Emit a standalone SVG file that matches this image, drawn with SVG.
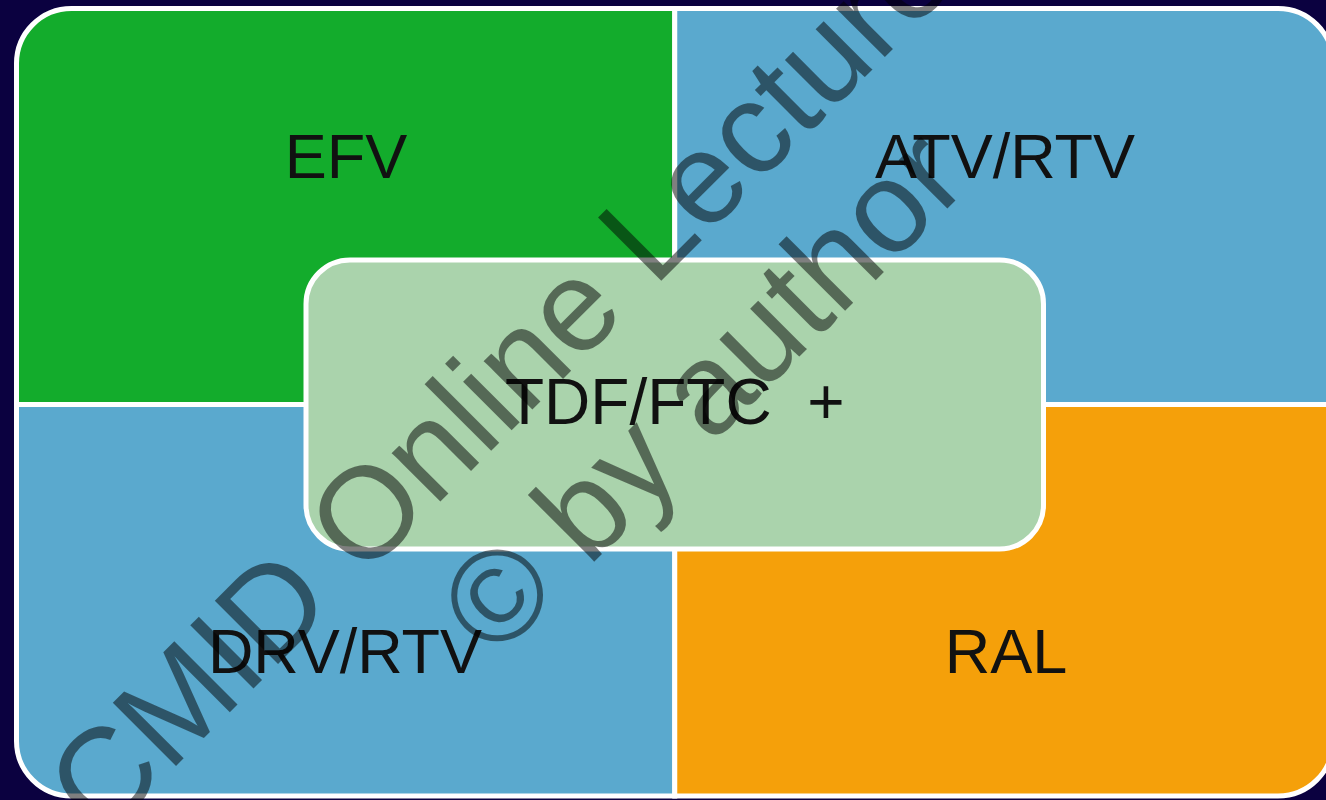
<svg xmlns="http://www.w3.org/2000/svg" width="1326" height="800" viewBox="0 0 1326 800">
  <style>
    .quad { stroke: #ffffff; stroke-width: 5; stroke-linejoin: miter; }
    .label { font-family: "Liberation Sans", Arial, sans-serif; font-size: 63px; fill: #111111; text-anchor: middle; }
    .mark { font-family: "Liberation Sans", Arial, sans-serif; font-size: 130px; fill: #000000; fill-opacity: 0.5; }
  </style>

  <!-- backdrop -->
  <rect x="0" y="0" width="1326" height="800" fill="#0b0140"/>

  <!-- four quadrants, each with its outer corner rounded -->
  <g id="q-efv">
    <path class="quad" fill="#13ac2c" d="M16.5,404.5 V63.5 A55,55 0 0 1 71.5,8.5 H674.75 V404.5 Z"/>
    <text class="label" x="346" y="178">EFV</text>
  </g>
  <g id="q-atv">
    <path class="quad" fill="#5aa9ce" d="M674.75,8.5 H1278 A55,55 0 0 1 1333,63.5 V404.5 H674.75 Z"/>
    <text class="label" x="1005" y="178">ATV/RTV</text>
  </g>
  <g id="q-drv">
    <path class="quad" fill="#5aa9ce" d="M16.5,404.5 H674.75 V796 H71.5 A55,55 0 0 1 16.5,741 Z"/>
    <text class="label" x="345" y="673">DRV/RTV</text>
  </g>
  <g id="q-ral">
    <path class="quad" fill="#f5a00a" d="M674.75,404.5 H1333 V741 A55,55 0 0 1 1278,796 H674.75 Z"/>
    <text class="label" x="1006" y="673">RAL</text>
  </g>

  <!-- central backbone box -->
  <g id="backbone">
    <rect x="306" y="260" width="737.5" height="289" rx="44" ry="44" fill="#aad3ac" stroke="#ffffff" stroke-width="5"/>
    <text class="label" x="505" y="424" style="text-anchor:start; white-space:pre; font-size:64px" xml:space="preserve">TDF/FTC  +</text>
  </g>

  <!-- connectors: none in this layout -->
  <g id="connectors"></g>

  <!-- diagonal watermark -->
  <g id="watermark">
    <text class="mark" transform="translate(102,840) rotate(-45)">CMID Online Lecture</text>
    <text class="mark" transform="translate(495,661) rotate(-45)">© by author</text>
  </g>
</svg>
